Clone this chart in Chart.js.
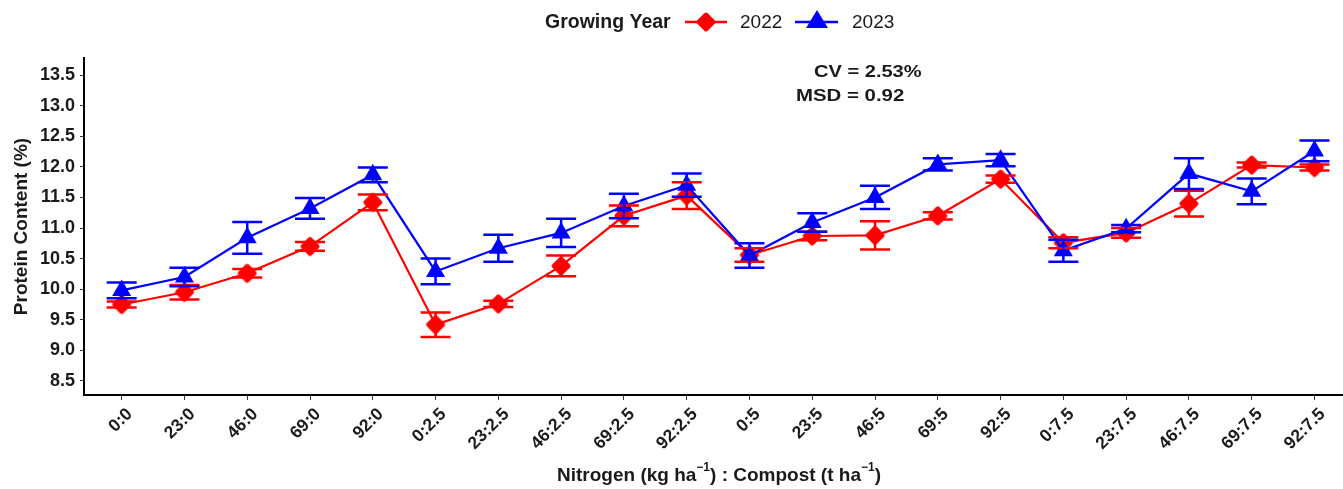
<!DOCTYPE html>
<html>
<head>
<meta charset="utf-8">
<script src="https://cdn.jsdelivr.net/npm/chart.js@4"></script>
<style>
  html, body { margin: 0; padding: 0; background: #ffffff; }
  #wrap { width: 1343px; height: 489px; position: relative; }
</style>
</head>
<body>
<div id="wrap"><canvas id="proteinChart"></canvas></div>
<script>
// treatment labels (N : compost)
var categories = ['0:0', '23:0', '46:0', '69:0', '92:0',
    '0:2.5', '23:2.5', '46:2.5', '69:2.5', '92:2.5',
    '0:5', '23:5', '46:5', '69:5', '92:5',
    '0:7.5', '23:7.5', '46:7.5', '69:7.5', '92:7.5'];

var protein2022 = [9.75, 9.95, 10.26, 10.70, 11.42,
    9.42, 9.76, 10.38, 11.20, 11.53,
    10.56, 10.87, 10.88, 11.20, 11.80,
    10.76, 10.92, 11.40, 12.03, 11.99];
var err2022 = [0.05, 0.12, 0.07, 0.07, 0.13,
    0.20, 0.05, 0.17, 0.17, 0.22,
    0.11, 0.07, 0.23, 0.06, 0.06,
    0.09, 0.08, 0.21, 0.04, 0.05];

var protein2023 = [9.98, 10.20, 10.84, 11.32, 11.87,
    10.29, 10.67, 10.92, 11.36, 11.70,
    10.55, 11.09, 11.50, 12.04, 12.11,
    10.63, 10.99, 11.89, 11.60, 12.26];
var err2023 = [0.13, 0.15, 0.26, 0.17, 0.12,
    0.21, 0.22, 0.23, 0.20, 0.19,
    0.20, 0.15, 0.19, 0.10, 0.10,
    0.18, 0.06, 0.25, 0.21, 0.17];

var yTicks = [8.5, 9.0, 9.5, 10.0, 10.5, 11.0, 11.5, 12.0, 12.5, 13.0, 13.5];

var RED = '#ff0000';
var BLUE = '#0000ff';
var FONT = '"Liberation Sans", Arial, sans-serif';

function toPoints(values) {
    return values.map(function(v, i) { return { x: i, y: v }; });
}

// rounded diamond, like the ggplot marker
function drawDiamond(ctx, cx, cy, half) {
    ctx.save();
    ctx.lineJoin = 'round';
    ctx.lineWidth = 4;
    ctx.beginPath();
    ctx.moveTo(cx, cy - half); ctx.lineTo(cx + half, cy);
    ctx.lineTo(cx, cy + half); ctx.lineTo(cx - half, cy);
    ctx.closePath();
    ctx.fill();
    ctx.stroke();
    ctx.restore();
}

var diamondImg = document.createElement('canvas');
diamondImg.width = 22;
diamondImg.height = 22;
(function() {
    var c = diamondImg.getContext('2d');
    c.fillStyle = RED;
    c.strokeStyle = RED;
    drawDiamond(c, 11, 11, 7.5);
})();

// error bars drawn from the err arrays through the chart scales
var errorBarPlugin = {
    id: 'errorBars',
    afterDatasetsDraw: function(chart) {
        var ctx = chart.ctx;
        var xs = chart.scales.x;
        var ys = chart.scales.y;
        chart.data.datasets.slice().reverse().forEach(function(ds) {
            ctx.save();
            ctx.strokeStyle = ds.borderColor;
            ctx.lineWidth = 2.5;
            ds.data.forEach(function(p, i) {
                var e = ds.errors[i];
                var px = xs.getPixelForValue(p.x);
                var top = ys.getPixelForValue(p.y + e);
                var bot = ys.getPixelForValue(p.y - e);
                ctx.beginPath();
                ctx.moveTo(px, top); ctx.lineTo(px, bot);
                ctx.moveTo(px - 15, top); ctx.lineTo(px + 15, top);
                ctx.moveTo(px - 15, bot); ctx.lineTo(px + 15, bot);
                ctx.stroke();
            });
            ctx.restore();
        });
    }
};

function stretchedText(ctx, text, x, y, sx) {
    ctx.save();
    ctx.translate(x, y);
    ctx.scale(sx, 1);
    ctx.fillText(text, 0, 0);
    ctx.restore();
}

// legend, stats note and axis titles
var annotationPlugin = {
    id: 'annotations',
    afterDraw: function(chart) {
        var ctx = chart.ctx;
        var area = chart.chartArea;
        ctx.save();

        // bottom axis line runs to the edge of the panel
        ctx.strokeStyle = '#000000';
        ctx.lineWidth = 2;
        ctx.beginPath();
        ctx.moveTo(area.right - 1, area.bottom);
        ctx.lineTo(chart.width, area.bottom);
        ctx.stroke();

        ctx.fillStyle = '#1a1a1a';
        ctx.textBaseline = 'middle';

        // legend
        ctx.font = 'bold 19.5px ' + FONT;
        ctx.textAlign = 'left';
        ctx.fillText('Growing Year', 545, 23);
        ctx.font = '19px ' + FONT;
        ctx.fillText('2022', 740, 23);
        ctx.fillText('2023', 852, 23);

        ctx.lineWidth = 2.5;
        ctx.strokeStyle = RED;
        ctx.beginPath(); ctx.moveTo(685, 22); ctx.lineTo(727, 22); ctx.stroke();
        ctx.fillStyle = RED;
        drawDiamond(ctx, 706, 22, 7.5);

        ctx.strokeStyle = BLUE;
        ctx.beginPath(); ctx.moveTo(795, 22); ctx.lineTo(838, 22); ctx.stroke();
        ctx.fillStyle = BLUE;
        ctx.beginPath();
        ctx.moveTo(817, 10); ctx.lineTo(828, 28); ctx.lineTo(806, 28);
        ctx.closePath(); ctx.fill();

        // CV / MSD
        ctx.fillStyle = '#1a1a1a';
        ctx.textBaseline = 'alphabetic';
        ctx.font = 'bold 17px ' + FONT;
        stretchedText(ctx, 'CV = 2.53%', 814, 77, 1.18);
        stretchedText(ctx, 'MSD = 0.92', 796, 101, 1.2);

        // y title
        ctx.save();
        ctx.font = 'bold 19px ' + FONT;
        ctx.translate(22, (area.top + area.bottom) / 2);
        ctx.rotate(-Math.PI / 2);
        ctx.textAlign = 'center';
        ctx.textBaseline = 'middle';
        ctx.fillText('Protein Content (%)', 0, 0);
        ctx.restore();

        // x title with superscripts
        var parts = [
            ['Nitrogen (kg ha', false], ['\u22121', true],
            [') : Compost (t ha', false], ['\u22121', true], [')', false]
        ];
        var big = 'bold 19px ' + FONT;
        var small = 'bold 12px ' + FONT;
        var total = 0;
        parts.forEach(function(p) {
            ctx.font = p[1] ? small : big;
            total += ctx.measureText(p[0]).width;
        });
        var x = 719 - total / 2;
        parts.forEach(function(p) {
            ctx.font = p[1] ? small : big;
            ctx.fillText(p[0], x, p[1] ? 471 : 481);
            x += ctx.measureText(p[0]).width;
        });
        ctx.restore();
    }
};

new Chart(document.getElementById('proteinChart').getContext('2d'), {
    type: 'line',
    data: {
        datasets: [{
            label: '2023',
            data: toPoints(protein2023),
            errors: err2023,
            borderColor: BLUE,
            backgroundColor: BLUE,
            borderWidth: 2.2,
            pointStyle: 'triangle',
            pointRadius: 11,
            pointBorderWidth: 0,
            order: 0
        }, {
            label: '2022',
            data: toPoints(protein2022),
            errors: err2022,
            borderColor: RED,
            backgroundColor: RED,
            borderWidth: 2.2,
            pointStyle: diamondImg,
            pointRadius: 10,
            order: 1
        }]
    },
    options: {
        responsive: true,
        maintainAspectRatio: false,
        animation: false,
        layout: { padding: { top: 58, right: 0, left: 0, bottom: 0 } },
        plugins: {
            legend: { display: false },
            tooltip: { enabled: false }
        },
        scales: {
            x: {
                type: 'linear',
                min: -0.6,
                max: 19.26,
                afterBuildTicks: function(scale) {
                    scale.ticks = categories.map(function(c, i) { return { value: i }; });
                },
                afterFit: function(scale) { scale.height = 94; },
                ticks: {
                    autoSkip: false,
                    minRotation: 45,
                    maxRotation: 45,
                    padding: 4,
                    labelOffset: 8,
                    color: '#1a1a1a',
                    font: { family: FONT, size: 17.5, weight: 'bold' },
                    callback: function(v) { return categories[v]; }
                },
                grid: { drawOnChartArea: false, drawTicks: true, tickLength: 5, color: '#333333' },
                border: { display: true, color: '#000000', width: 2 }
            },
            y: {
                min: 8.27,
                max: 13.78,
                afterBuildTicks: function(scale) {
                    scale.ticks = yTicks.map(function(v) { return { value: v }; });
                },
                afterFit: function(scale) { scale.width = 84; },
                ticks: {
                    padding: 5,
                    color: '#1a1a1a',
                    font: { family: FONT, size: 18, weight: 'bold' },
                    callback: function(v) { return v.toFixed(1); }
                },
                grid: { drawOnChartArea: false, drawTicks: true, tickLength: 4, color: '#333333' },
                border: { display: true, color: '#000000', width: 2 }
            }
        }
    },
    plugins: [errorBarPlugin, annotationPlugin]
});
</script>
</body>
</html>
